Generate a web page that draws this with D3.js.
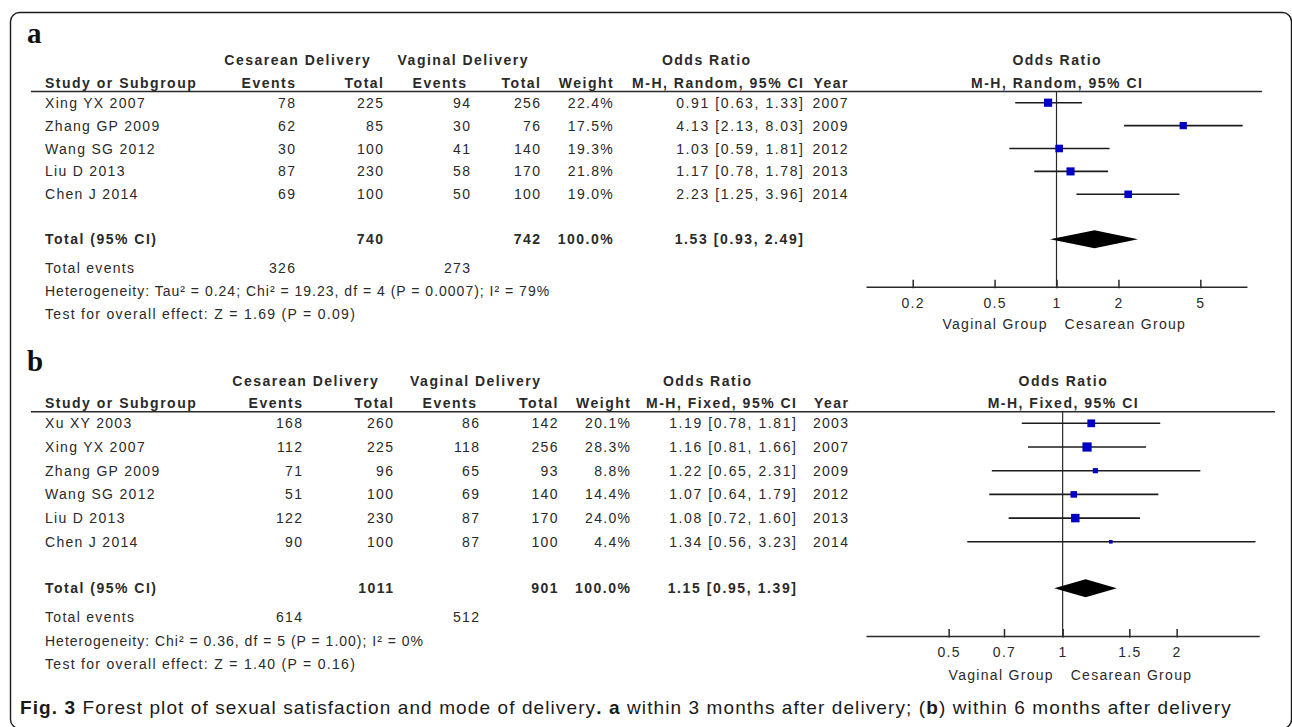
<!DOCTYPE html>
<html>
<head>
<meta charset="utf-8">
<script src="https://cdn.jsdelivr.net/npm/d3@7"></script>
<style>
  body { margin: 0; background: #fff; }
  svg text { font-family: "Liberation Sans", Arial, Helvetica, sans-serif; }
  svg text.panel-letter { font-family: "Liberation Serif", "Times New Roman", serif; }
</style>
</head>
<body>
<svg id="fig" width="1292" height="727"></svg>
<script>
// ---- Panel a: within 3 months after delivery (random effects) ----
const studiesA   = ["Xing YX 2007", "Zhang GP 2009", "Wang SG 2012", "Liu D 2013", "Chen J 2014"];
const cesEventsA = [78, 62, 30, 87, 69];
const cesTotalA  = [225, 85, 100, 230, 100];
const vagEventsA = [94, 30, 41, 58, 50];
const vagTotalA  = [256, 76, 140, 170, 100];
const weightA    = [22.4, 17.5, 19.3, 21.8, 19.0];
const orA        = [0.91, 4.13, 1.03, 1.17, 2.23];
const lowerA     = [0.63, 2.13, 0.59, 0.78, 1.25];
const upperA     = [1.33, 8.03, 1.81, 1.78, 3.96];
const yearA      = [2007, 2009, 2012, 2013, 2014];
const pooledA    = [1.53, 0.93, 2.49];      // OR, lower, upper
const totalsA    = [740, 742];              // cesarean, vaginal participants
const eventSumsA = [326, 273];              // cesarean, vaginal events
const ticksA     = [0.2, 0.5, 1, 2, 5];
const hetA  = "Heterogeneity: Tau\u00B2 = 0.24; Chi\u00B2 = 19.23, df = 4 (P = 0.0007); I\u00B2 = 79%";
const testA = "Test for overall effect: Z = 1.69 (P = 0.09)";

// ---- Panel b: within 6 months after delivery (fixed effect) ----
const studiesB   = ["Xu XY 2003", "Xing YX 2007", "Zhang GP 2009", "Wang SG 2012", "Liu D 2013", "Chen J 2014"];
const cesEventsB = [168, 112, 71, 51, 122, 90];
const cesTotalB  = [260, 225, 96, 100, 230, 100];
const vagEventsB = [86, 118, 65, 69, 87, 87];
const vagTotalB  = [142, 256, 93, 140, 170, 100];
const weightB    = [20.1, 28.3, 8.8, 14.4, 24.0, 4.4];
const orB        = [1.19, 1.16, 1.22, 1.07, 1.08, 1.34];
const lowerB     = [0.78, 0.81, 0.65, 0.64, 0.72, 0.56];
const upperB     = [1.81, 1.66, 2.31, 1.79, 1.60, 3.23];
const yearB      = [2003, 2007, 2009, 2012, 2013, 2014];
const pooledB    = [1.15, 0.95, 1.39];
const totalsB    = [1011, 901];
const eventSumsB = [614, 512];
const ticksB     = [0.5, 0.7, 1, 1.5, 2];
const hetB  = "Heterogeneity: Chi\u00B2 = 0.36, df = 5 (P = 1.00); I\u00B2 = 0%";
const testB = "Test for overall effect: Z = 1.40 (P = 0.16)";

const svg = d3.select("#fig");
const INK = "#2a2a2a";
const LS = 1.3;            // letter spacing of the table type
const fmt2 = d3.format(".2f");
const ciText = (o, l, u) => `${fmt2(o)} [${fmt2(l)}, ${fmt2(u)}]`;
const pct = w => d3.format(".1f")(w) + "%";

// box side grows with the square root of the study weight (area ~ weight)
const boxSize = d3.scaleSqrt().domain([0, 28.3]).range([0, 9.2]);

// outer rounded frame
svg.append("rect")
  .attr("x", 10.5).attr("y", 12.5).attr("width", 1281).attr("height", 716)
  .attr("rx", 9).attr("ry", 9)
  .attr("fill", "none").attr("stroke", "#1a1a1a").attr("stroke-width", 1.4);

function txt(g, x, y, s, opt = {}) {
  const anchor = opt.anchor || "start";
  const ls = opt.ls != null ? opt.ls : (opt.bold ? LS + 0.2 : LS);
  const shift = anchor === "end" ? ls : anchor === "middle" ? ls / 2 : 0;
  return g.append("text")
    .attr("x", x + shift).attr("y", y)
    .attr("text-anchor", anchor)
    .attr("font-size", opt.size || 14)
    .attr("font-weight", opt.bold ? "bold" : "normal")
    .attr("letter-spacing", ls)
    .attr("fill", opt.fill || INK)
    .text(s);
}

function drawPanel(p) {
  const g = svg.append("g");
  const c = p.cols;
  const x = d3.scaleLog().domain(p.extent).range(p.xRange);
  const y = d3.scaleLinear().domain([0, 1]).range([p.row0, p.row0 + p.rowStep]);
  const base = v => v + 5;       // text baseline from a row centre

  // panel letter
  g.append("text").attr("class", "panel-letter")
    .attr("x", 27).attr("y", p.labelY)
    .attr("font-size", 29).attr("font-weight", "bold").attr("fill", "#111")
    .text(p.label);

  // header line 1
  txt(g, p.groups.ces, base(p.h1), "Cesarean Delivery", { bold: true, anchor: "middle" });
  txt(g, p.groups.vag, base(p.h1), "Vaginal Delivery", { bold: true, anchor: "middle" });
  txt(g, p.groups.or, base(p.h1), "Odds Ratio", { bold: true, anchor: "middle" });
  txt(g, x(1), base(p.h1), "Odds Ratio", { bold: true, anchor: "middle" });

  // header line 2
  txt(g, c.name, base(p.h2), "Study or Subgroup", { bold: true });
  txt(g, c.cesEv, base(p.h2), "Events", { bold: true, anchor: "end" });
  txt(g, c.cesTot, base(p.h2), "Total", { bold: true, anchor: "end" });
  txt(g, c.vagEvH, base(p.h2), "Events", { bold: true, anchor: "end" });
  txt(g, c.vagTot, base(p.h2), "Total", { bold: true, anchor: "end" });
  txt(g, c.weight, base(p.h2), "Weight", { bold: true, anchor: "end" });
  txt(g, c.ci, base(p.h2), p.method, { bold: true, anchor: "end" });
  txt(g, c.year, base(p.h2), "Year", { bold: true, anchor: "end" });
  txt(g, x(1), base(p.h2), p.method, { bold: true, anchor: "middle" });

  g.append("line").attr("x1", p.rule[0]).attr("x2", p.rule[1])
    .attr("y1", p.ruleY).attr("y2", p.ruleY)
    .attr("stroke", INK).attr("stroke-width", 1.5);

  // study rows
  p.studies.forEach((s, i) => {
    const yy = base(y(i));
    txt(g, c.name, yy, s);
    txt(g, c.cesEv, yy, p.cesEvents[i], { anchor: "end" });
    txt(g, c.cesTot, yy, p.cesTotal[i], { anchor: "end" });
    txt(g, c.vagEv, yy, p.vagEvents[i], { anchor: "end" });
    txt(g, c.vagTot, yy, p.vagTotal[i], { anchor: "end" });
    txt(g, c.weight, yy, pct(p.weight[i]), { anchor: "end" });
    txt(g, c.ci, yy, ciText(p.or[i], p.lower[i], p.upper[i]), { anchor: "end", ls: 1.6 });
    txt(g, c.year, yy, p.year[i], { anchor: "end" });
  });

  // pooled row and summary lines
  const yt = base(p.totalY);
  txt(g, c.name, yt, "Total (95% CI)", { bold: true });
  txt(g, c.cesTot, yt, p.totals[0], { bold: true, anchor: "end" });
  txt(g, c.vagTot, yt, p.totals[1], { bold: true, anchor: "end" });
  txt(g, c.weight, yt, pct(d3.sum(p.weight)), { bold: true, anchor: "end" });
  txt(g, c.ci, yt, ciText(...p.pooled), { bold: true, anchor: "end", ls: 1.6 });

  txt(g, c.name, base(p.eventsY), "Total events");
  txt(g, c.cesEv, base(p.eventsY), p.eventSums[0], { anchor: "end" });
  txt(g, c.vagEv, base(p.eventsY), p.eventSums[1], { anchor: "end" });
  txt(g, c.name, base(p.hetY), p.het, { ls: 1.0 });
  txt(g, c.name, base(p.testY), p.test);

  // line of no effect
  g.append("line").attr("x1", x(1)).attr("x2", x(1))
    .attr("y1", p.ruleY).attr("y2", p.axisY)
    .attr("stroke", INK).attr("stroke-width", 1.2);

  // confidence intervals
  g.selectAll(".ci").data(p.studies).join("line")
    .attr("x1", (d, i) => x(p.lower[i])).attr("x2", (d, i) => x(p.upper[i]))
    .attr("y1", (d, i) => y(i)).attr("y2", (d, i) => y(i))
    .attr("stroke", "#1c1c1c").attr("stroke-width", 1.6);

  // weighted point estimates
  g.selectAll(".box").data(p.studies).join("rect")
    .attr("x", (d, i) => x(p.or[i]) - boxSize(p.weight[i]) / 2)
    .attr("y", (d, i) => y(i) - boxSize(p.weight[i]) / 2)
    .attr("width", (d, i) => boxSize(p.weight[i]))
    .attr("height", (d, i) => boxSize(p.weight[i]))
    .attr("fill", "#0000c4");

  // pooled diamond
  const [po, pl, pu] = p.pooled;
  const h = p.diamondHalf;
  g.append("path")
    .attr("d", `M${x(pl)},${p.totalY} L${x(po)},${p.totalY - h} L${x(pu)},${p.totalY} L${x(po)},${p.totalY + h} Z`)
    .attr("fill", "#000");

  // odds ratio axis
  const axis = d3.axisBottom(x)
    .tickValues(p.ticks)
    .tickFormat(d => String(d))
    .tickSizeInner(-7).tickSizeOuter(0).tickPadding(11);
  const ax = g.append("g").attr("transform", `translate(0,${p.axisY})`).call(axis);
  ax.select(".domain").attr("stroke", INK).attr("stroke-width", 1.5);
  ax.selectAll(".tick line").attr("stroke", INK).attr("stroke-width", 1.5).attr("y1", 1.5);
  ax.selectAll(".tick text")
    .attr("font-size", 14).attr("letter-spacing", LS).attr("fill", INK);

  txt(g, x(1) - 10, base(p.groupY), "Vaginal Group", { anchor: "end" });
  txt(g, x(1) + 8, base(p.groupY), "Cesarean Group");
}

drawPanel({
  label: "a", labelY: 43,
  h1: 60, h2: 83, ruleY: 91.5, rule: [31, 1262],
  row0: 102.7, rowStep: 22.9,
  totalY: 239.3, eventsY: 268, hetY: 291, testY: 314,
  axisY: 286.7, groupY: 324.3, diamondHalf: 9,
  extent: [0.1186, 8.43], xRange: [866, 1247],
  cols: { name: 45, cesEv: 295, cesTot: 383, vagEvH: 466, vagEv: 470, vagTot: 540, weight: 612.7, ci: 803, year: 847.5 },
  groups: { ces: 297, vag: 462.5, or: 706 },
  method: "M-H, Random, 95% CI",
  studies: studiesA, cesEvents: cesEventsA, cesTotal: cesTotalA,
  vagEvents: vagEventsA, vagTotal: vagTotalA, weight: weightA,
  or: orA, lower: lowerA, upper: upperA, year: yearA,
  pooled: pooledA, totals: totalsA, eventSums: eventSumsA,
  ticks: ticksA, het: hetA, test: testA
});

drawPanel({
  label: "b", labelY: 371,
  h1: 381, h2: 403.3, ruleY: 411.7, rule: [31, 1275],
  row0: 423.3, rowStep: 23.7,
  totalY: 588.3, eventsY: 617, hetY: 641, testY: 664,
  axisY: 636, groupY: 675, diamondHalf: 9,
  extent: [0.3025, 3.306], xRange: [866, 1259.3],
  cols: { name: 45, cesEv: 302, cesTot: 393, vagEvH: 476, vagEv: 479, vagTot: 557.5, weight: 630, ci: 796, year: 848 },
  groups: { ces: 305, vag: 475, or: 707 },
  method: "M-H, Fixed, 95% CI",
  studies: studiesB, cesEvents: cesEventsB, cesTotal: cesTotalB,
  vagEvents: vagEventsB, vagTotal: vagTotalB, weight: weightB,
  or: orB, lower: lowerB, upper: upperB, year: yearB,
  pooled: pooledB, totals: totalsB, eventSums: eventSumsB,
  ticks: ticksB, het: hetB, test: testB
});

// figure caption
const cap = svg.append("text").attr("x", 20).attr("y", 714)
  .attr("font-size", 19).attr("letter-spacing", 1.1).attr("fill", "#1a1a1a");
[["Fig. 3", true], [" Forest plot of sexual satisfaction and mode of delivery", false],
 [". a", true], [" within 3 months after delivery; (", false], ["b", true],
 [") within 6 months after delivery", false]]
  .forEach(([s, b]) => cap.append("tspan").attr("font-weight", b ? "bold" : "normal").text(s));
</script>
</body>
</html>
